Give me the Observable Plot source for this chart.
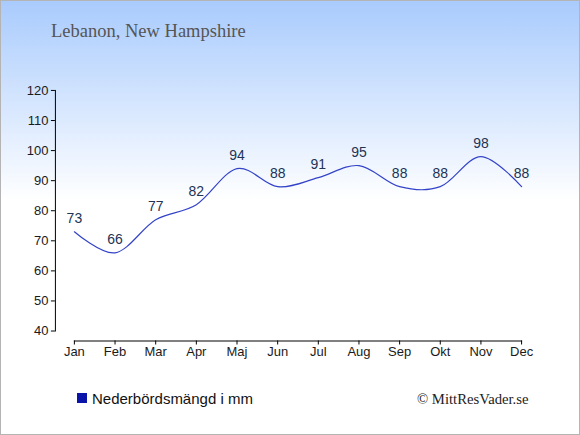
<!DOCTYPE html>
<html>
<head>
<meta charset="utf-8">
<script src="https://cdn.jsdelivr.net/npm/d3@7"></script>
<script src="https://cdn.jsdelivr.net/npm/@observablehq/plot@0.6"></script>
<style>
  html, body { margin: 0; padding: 0; }
  #wrap {
    position: relative; width: 580px; height: 435px; box-sizing: border-box;
    border: 1px solid #b4b4b4;
    background: linear-gradient(to bottom, #a9cbfd 0px, #ffffff 200px, #ffffff 435px);
    overflow: hidden;
  }
  #title {
    position: absolute; left: 50px; top: 21px; font: 18.5px/19px "Liberation Serif", serif; color: #555; white-space: nowrap;
  }
  #chart { position: absolute; left: -1px; top: 58px; }
  #legend {
    position: absolute; left: 91px; top: 390px; font: 15px/15px "Liberation Sans", Arial, sans-serif; color: #111; white-space: nowrap;
  }
  #swatch { position: absolute; left: 76px; top: 392px; width: 10px; height: 10px; background: #0a14a8; }
  #copy {
    position: absolute; left: 416px; top: 391px; font: 14.7px/15px "Liberation Serif", serif; color: #222; white-space: nowrap;
  }
</style>
</head>
<body>
<div id="wrap">
  <div id="title">Lebanon, New Hampshire</div>
  <div id="chart"></div>
  <div id="swatch"></div>
  <div id="legend">Nederbördsmängd i mm</div>
  <div id="copy">© MittResVader.se</div>
</div>
<script>
const months = ["Jan","Feb","Mar","Apr","Maj","Jun","Jul","Aug","Sep","Okt","Nov","Dec"];
const precipitation = [73, 66, 77, 82, 94, 88, 91, 95, 88, 88, 98, 88];
const yTicks = [40, 50, 60, 70, 80, 90, 100, 110, 120];

const data = months.map((m, i) => ({month: m, value: precipitation[i]}));

const chart = Plot.plot({
  width: 580,
  height: 320,
  marginTop: 31,
  marginBottom: 38,
  marginLeft: 55,
  marginRight: 58,
  style: {background: "transparent", overflow: "visible"},
  x: {type: "point", domain: months, padding: 0, round: false, insetLeft: 19, label: null},
  y: {domain: [40, 120], insetBottom: 10, label: null},
  marks: [
    Plot.frame({anchor: "left", insetBottom: 10, stroke: "#000", strokeWidth: 1}),
    Plot.frame({anchor: "bottom", insetLeft: 19, stroke: "#000", strokeWidth: 1}),
    Plot.axisY({ticks: yTicks, tickSize: 4, tickPadding: 3, fontSize: 13, fontFamily: "Liberation Sans, Arial, sans-serif", fill: "#1a1a1a", stroke: "#000", label: null}),
    Plot.axisX({tickSize: 4, tickPadding: 2, fontSize: 13, fontFamily: "Liberation Sans, Arial, sans-serif", fill: "#1a1a1a", stroke: "#000", label: null}),
    Plot.line(data, {x: "month", y: "value", curve: "cardinal", stroke: "#3343c8", strokeWidth: 1.2}),
    Plot.text(data, {x: "month", y: "value", text: d => String(d.value), dy: -13, fontSize: 14, fontFamily: "Liberation Sans, Arial, sans-serif", fill: "#223355"})
  ]
});
document.getElementById("chart").appendChild(chart);
</script>
</body>
</html>
